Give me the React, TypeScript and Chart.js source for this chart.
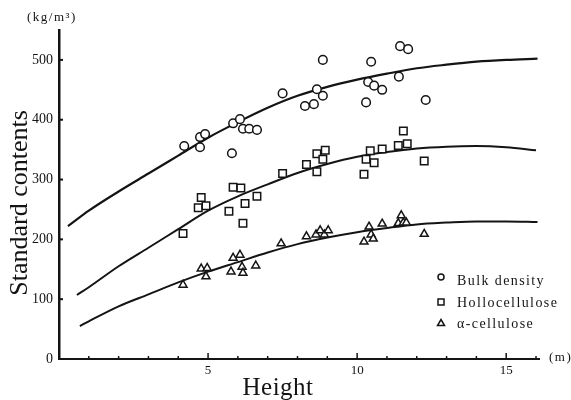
import React, { useEffect, useRef } from "react";
import { Chart, registerables } from "chart.js";

Chart.register(...registerables);

// ---- Data ----
const bulkHeights = [4.2, 4.73, 4.9, 4.73, 5.8, 5.84, 6.07, 6.17, 6.38, 6.64, 7.5, 8.25, 8.55, 8.65, 8.85, 8.85, 10.3, 10.37, 10.47, 10.57, 10.84, 11.4, 11.44, 11.71, 12.3];
const bulkValues = [356, 371, 376, 354, 344, 394, 401, 385, 385, 383, 444, 423, 426, 451, 440, 500, 429, 463, 497, 457, 450, 472, 523, 518, 433];

const holloHeights = [4.16, 4.67, 4.77, 4.93, 5.7, 5.84, 6.1, 6.17, 6.24, 6.64, 7.5, 8.3, 8.65, 8.65, 8.85, 8.93, 10.23, 10.3, 10.44, 10.57, 10.84, 11.38, 11.55, 11.68, 12.25];
const holloValues = [210, 253, 270, 256, 247, 287, 286, 227, 260, 272, 310, 325, 343, 313, 334, 349, 309, 334, 348, 328, 351, 357, 381, 360, 331];

const alphaHeights = [4.16, 4.77, 4.97, 4.93, 5.77, 5.84, 6.07, 6.14, 6.17, 6.6, 7.45, 8.3, 8.62, 8.76, 8.9, 9.03, 10.23, 10.4, 10.47, 10.54, 10.84, 11.38, 11.48, 11.55, 11.65, 12.25];
const alphaValues = [124, 151, 152, 138, 146, 169, 174, 154, 144, 156, 193, 205, 208, 215, 208, 215, 196, 221, 208, 201, 226, 227, 240, 228, 228, 209];

const bulkCurveX = [0.3, 1, 2, 3, 4, 5, 6, 7, 8, 9, 10, 11, 12, 13, 14, 15, 16.05];
const bulkCurveY = [222, 248, 280, 310, 340, 370, 396, 420, 440, 455, 467, 477, 486, 492, 497, 500, 502];

const holloCurveX = [0.6, 1, 2, 3, 4, 5, 6, 7, 8, 9, 10, 11, 12, 13, 14, 15, 16];
const holloCurveY = [107, 120, 155, 186, 217, 248, 272, 292, 311, 326, 338, 346, 352, 355, 356, 354, 349];

const alphaCurveX = [0.7, 1, 2, 3, 4, 5, 6, 7, 8, 9, 10, 11, 12, 13, 14, 15, 16.05];
const alphaCurveY = [55, 63, 88, 108, 128, 146, 162, 178, 192, 203, 212, 219, 225, 228, 230, 230, 229];

const xTickValues = [5, 10, 15];
const xMinorTicks = [1, 2, 3, 4, 5, 6, 7, 8, 9, 10, 11, 12, 13, 14, 15, 16];
const yTickValues = [0, 100, 200, 300, 400, 500];

const legendLabels = ["Bulk density", "Hollocellulose", "α-cellulose"];
const yTitle = "Standard contents";
const xTitle = "Height";
const yUnit = "(kg/m³)";
const xUnit = "(m)";

const INK = "#141414";
const SERIF = "'Liberation Serif', 'DejaVu Serif', serif";

const toPts = (xs: number[], ys: number[]) => xs.map((x, i) => ({ x, y: ys[i] }));

const decorPlugin = {
  id: "decor",
  afterDraw(chart: any) {
    const ctx = chart.ctx as CanvasRenderingContext2D;
    const xs = chart.scales.x;
    const ys = chart.scales.y;
    const area = chart.chartArea;
    ctx.save();
    ctx.strokeStyle = INK;
    ctx.fillStyle = INK;
    // x ticks (inside, upward)
    ctx.lineWidth = 1.5;
    xMinorTicks.forEach((v) => {
      const px = xs.getPixelForValue(v);
      const len = v % 5 === 0 ? 6 : 3;
      ctx.beginPath();
      ctx.moveTo(px, area.bottom);
      ctx.lineTo(px, area.bottom - len);
      ctx.stroke();
    });
    // y ticks (inside, rightward)
    ctx.lineWidth = 2;
    yTickValues.forEach((v) => {
      if (v === 0) return;
      const py = ys.getPixelForValue(v);
      ctx.beginPath();
      ctx.moveTo(area.left, py);
      ctx.lineTo(area.left + 4, py);
      ctx.stroke();
    });

    // Titles
    ctx.font = `25px ${SERIF}`;
    (ctx as any).letterSpacing = "0.5px";
    ctx.textAlign = "center";
    ctx.textBaseline = "alphabetic";
    ctx.fillText(xTitle, 278, 395);

    ctx.save();
    ctx.translate(27, 203);
    ctx.rotate(-Math.PI / 2);
    ctx.font = `26px ${SERIF}`;
    (ctx as any).letterSpacing = "0px";
    ctx.fillText(yTitle, 0, 0);
    ctx.restore();

    // Units
    ctx.font = `13px ${SERIF}`;
    (ctx as any).letterSpacing = "1.5px";
    ctx.textAlign = "left";
    ctx.textBaseline = "middle";
    ctx.fillText(yUnit, 27, 18);
    ctx.fillText(xUnit, 549, 358);

    // Legend
    const lx = 441;
    const lys = [277, 302, 323];
    ctx.lineWidth = 1.5;
    ctx.beginPath();
    ctx.arc(lx, lys[0], 3, 0, Math.PI * 2);
    ctx.stroke();
    ctx.strokeRect(lx - 3, lys[1] - 3, 6, 6);
    ctx.beginPath();
    ctx.moveTo(lx, lys[2] - 3.5);
    ctx.lineTo(lx + 3.5, lys[2] + 2.5);
    ctx.lineTo(lx - 3.5, lys[2] + 2.5);
    ctx.closePath();
    ctx.stroke();

    ctx.font = `14px ${SERIF}`;
    (ctx as any).letterSpacing = "1.4px";
    ctx.textBaseline = "middle";
    const tys = [281, 303, 324];
    legendLabels.forEach((t, i) => ctx.fillText(t, 457, tys[i]));
    ctx.restore();
  },
};

export default function App() {
  const canvasRef = useRef<HTMLCanvasElement | null>(null);

  useEffect(() => {
    if (!canvasRef.current) return;
    const curveStyle = {
      showLine: true,
      borderColor: INK,
      borderWidth: 2,
      pointRadius: 0,
      pointHoverRadius: 0,
      cubicInterpolationMode: "monotone" as const,
      fill: false,
      order: 2,
    };
    const markStyle = {
      showLine: false,
      borderColor: INK,
      backgroundColor: "#ffffff",
      borderWidth: 1.5,
      order: 1,
    };
    const chart = new Chart(canvasRef.current, {
      type: "scatter",
      data: {
        datasets: [
          { ...curveStyle, label: "bulk fit", data: toPts(bulkCurveX, bulkCurveY), borderWidth: 2.2 },
          { ...curveStyle, label: "hollo fit", data: toPts(holloCurveX, holloCurveY) },
          { ...curveStyle, label: "alpha fit", data: toPts(alphaCurveX, alphaCurveY) },
          { ...markStyle, label: legendLabels[0], data: toPts(bulkHeights, bulkValues), pointStyle: "circle", pointRadius: 4.3 },
          { ...markStyle, label: legendLabels[1], data: toPts(holloHeights, holloValues), pointStyle: "rect", pointRadius: 5.3 },
          { ...markStyle, label: legendLabels[2], data: toPts(alphaHeights, alphaValues), pointStyle: "triangle", pointRadius: 4.6 },
        ],
      },
      options: {
        animation: false,
        responsive: false,
        maintainAspectRatio: false,
        layout: { padding: { left: 0, right: 32, top: 30, bottom: 0 } },
        plugins: { legend: { display: false }, tooltip: { enabled: false } },
        events: [],
        scales: {
          x: {
            type: "linear",
            min: 0,
            max: 16.1,
            afterBuildTicks: (scale: any) => {
              scale.ticks = xTickValues.map((v) => ({ value: v }));
            },
            afterFit: (scale: any) => {
              scale.height = 41;
            },
            grid: { display: false, drawTicks: false },
            border: { display: true, color: INK, width: 2 },
            ticks: {
              padding: 4,
              color: INK,
              font: { family: SERIF, size: 13 },
              maxRotation: 0,
              autoSkip: false,
            },
          },
          y: {
            type: "linear",
            min: 0,
            max: 550,
            afterBuildTicks: (scale: any) => {
              scale.ticks = yTickValues.map((v) => ({ value: v }));
            },
            afterFit: (scale: any) => {
              scale.width = 59;
            },
            grid: { display: false, drawTicks: false },
            border: { display: true, color: INK, width: 2.5 },
            ticks: {
              padding: 6,
              color: INK,
              font: { family: SERIF, size: 14 },
              autoSkip: false,
            },
          },
        },
      },
      plugins: [decorPlugin],
    } as any);
    return () => chart.destroy();
  }, []);

  return (
    <div style={{ position: "fixed", left: 0, top: 0, width: 571, height: 400, background: "#fff" }}>
      <canvas ref={canvasRef} width={571} height={400} style={{ display: "block", width: 571, height: 400 }} />
    </div>
  );
}
